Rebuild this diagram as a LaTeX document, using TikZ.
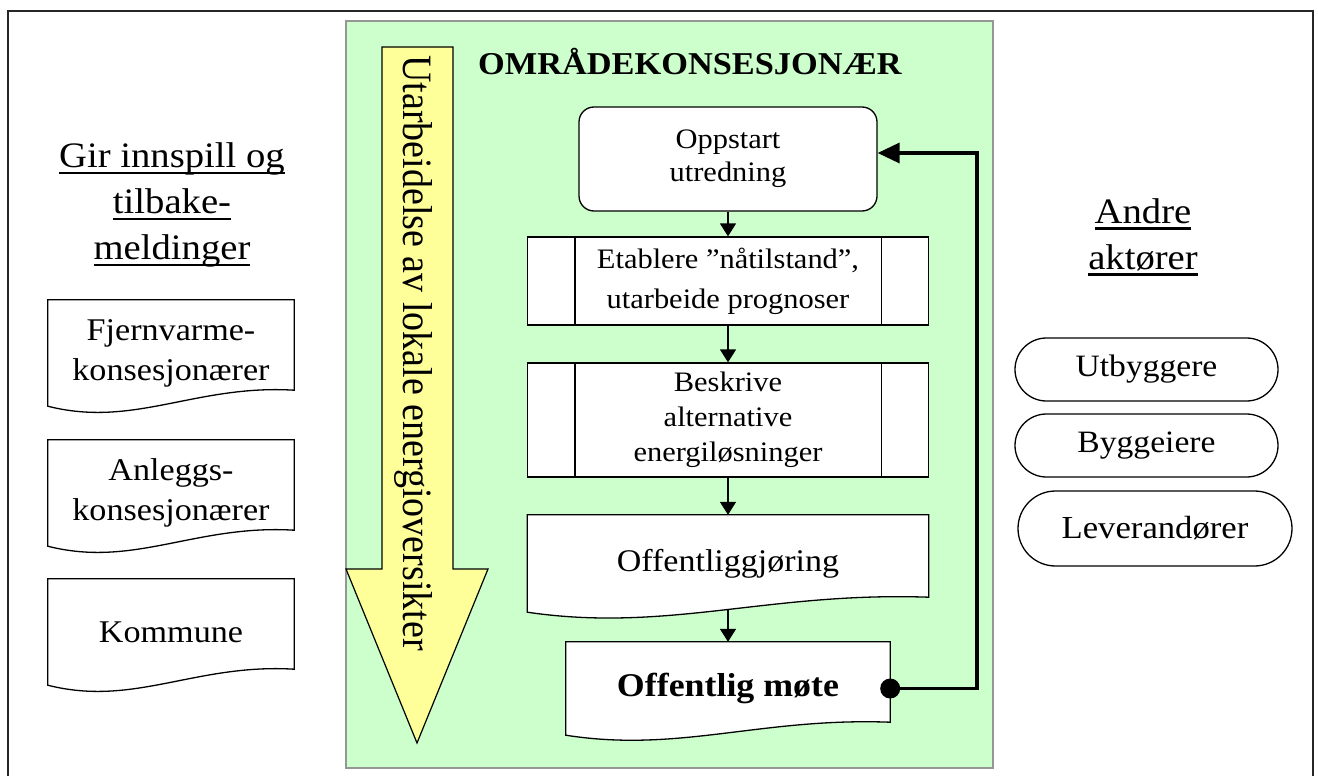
\documentclass[tikz,border=0pt]{standalone}
\usepackage{fontspec}
\setmainfont{Liberation Serif}[FakeStretch=1.08]
\newfontfamily\plainserif{Liberation Serif}
\usepackage{xcolor}
\usetikzlibrary{calc}
\usetikzlibrary{arrows.meta}
\usetikzlibrary{shapes.misc}
\usetikzlibrary{backgrounds}
\newsavebox{\ulbox}
\newcommand{\uln}[1]{\sbox{\ulbox}{#1}\rlap{\rule[-6.8pt]{\wd\ulbox}{2.6pt}}\usebox{\ulbox}}
\definecolor{areagreen}{RGB}{204,255,204}
\definecolor{areaedge}{RGB}{150,150,150}
\definecolor{arrowyellow}{RGB}{255,255,153}
\tikzset{
  every node/.style = {align=center, inner sep=0pt},
  >={Triangle[length=13pt,width=16pt]}
}
\tikzset{
  procbox/.style = {draw, fill=white, line width=1.3pt, minimum width=401pt},
  startbox/.style = {draw, fill=white, line width=1.3pt, rounded corners=15pt},
  docbox/.style = {minimum width=#1},
  pill/.style = {rounded rectangle, draw, line width=1.3pt},
  flow/.style = {->, line width=1.7pt},
  bigtext/.style = {font=\fontsize{35.8}{46}\selectfont},
  midtext/.style = {font=\fontsize{28.2}{35}\selectfont}
}
% document symbol drawn round a node: name, rise of right end
\newcommand{\docshape}[2]{%
  \draw[line width=1.3pt, fill=white] (#1.north west) -- (#1.north east)
    -- ($(#1.south east)+(0,-#2)$)
    .. controls ($(#1.south west)!0.6!(#1.south east)+(0,{-1.375*#2})$)
    and ($(#1.south west)!0.35!(#1.south east)+(0,{1.375*#2})$) .. (#1.south west)
    -- cycle;}

\begin{document}
\begin{tikzpicture}[x=1pt, y=-1pt]
\useasboundingbox (0,0) rectangle (1318,776);
\def\bw{401}

% Frame, green area and the yellow arrow
\begin{scope}[on background layer]
\draw[line width=2pt, black!85] (8,11) rectangle (1313,790);
\draw[fill=areagreen, draw=areaedge, line width=2pt] (346,21) rectangle (993,768);
\draw[fill=arrowyellow, line width=1.2pt] (382,47) -- (453,47) -- (453,569)
  -- (488,569) -- (417,743) -- (346,569) -- (382,569) -- cycle;
\end{scope}
\node[rotate=-90] (trend) at (413,353)
  {\scalebox{1}[1.1]{\plainserif\fontsize{38}{42}\selectfont Utarbeidelse av lokale energioversikter}};

% Title
\node[anchor=base, font=\fontsize{31.8}{36}\selectfont\bfseries] (owner) at (690,75) {OMRÅDEKONSESJONÆR};

% Flow of the study
\node[startbox, minimum width=298pt, minimum height=104pt,
  font=\fontsize{28.2}{33}\selectfont] (start) at (728,159) {Oppstart\\utredning};
\node[procbox, minimum height=88pt, font=\fontsize{28.2}{40}\selectfont] (state) at (728,281)
  {Etablere ”nåtilstand”,\\utarbeide prognoser};
\node[procbox, minimum height=114pt, midtext] (alts) at (728,420)
  {Beskrive\\alternative\\energiløsninger};
\node[docbox=\bw pt, minimum height=97pt, font=\fontsize{31.5}{36}\selectfont] (publ) at (728,563.5)
  {Offentliggjøring};
\node[docbox=324pt, minimum height=93pt, font=\fontsize{33.2}{38}\selectfont\bfseries] (meet) at (728,688.5)
  {Offentlig møte};

% Side bars of the process boxes
\foreach \b in {state,alts}{
  \draw[line width=1.3pt] ($(\b.north west)+(48,0)$) -- ($(\b.south west)+(48,0)$);
  \draw[line width=1.3pt] ($(\b.north east)+(-48,0)$) -- ($(\b.south east)+(-48,0)$);
}

% Left: input from
\node[bigtext] (givers) at (172,205) {\uln{Gir innspill og}\\\uln{tilbake-}\\\uln{meldinger}};
\node[docbox=246pt, minimum height=106pt, font=\fontsize{31.6}{40}\selectfont] (fjv) at (171,353)
  {Fjernvarme-\\konsesjonærer};
\node[docbox=246pt, minimum height=106pt, font=\fontsize{31.6}{40}\selectfont] (ans) at (171,493)
  {Anleggs-\\konsesjonærer};
\node[docbox=246pt, minimum height=106pt, font=\fontsize{31.6}{40}\selectfont] (kom) at (171,632)
  {Kommune};

% Right: other actors
\node[bigtext] (others) at (1143,237) {\uln{Andre}\\\uln{aktører}};
\node[pill, minimum width=263pt, minimum height=63pt, font=\fontsize{31.1}{36}\selectfont] (utb) at (1146.5,369.5) {Utbyggere};
\node[pill, minimum width=263pt, minimum height=63pt, font=\fontsize{31.1}{36}\selectfont] (bygg) at (1146.5,445.5) {Byggeiere};
\node[pill, minimum width=274pt, minimum height=75pt, font=\fontsize{32.1}{36}\selectfont] (lev) at (1155,528.5) {Leverandører};

% Document outlines, under the texts
\begin{scope}[on background layer]
\docshape{publ}{15}
\docshape{meet}{13}
\docshape{fjv}{16}
\docshape{ans}{16}
\docshape{kom}{16}
\end{scope}

% Arrows
\draw[flow] (start.south) -- (state.north);
\draw[flow] (state.south) -- (alts.north);
\draw[flow] (alts.south) -- (publ.north);
\draw[flow, shorten <=-3pt] (publ.south) -- (meet.north);

% Feedback loop
\coordinate (loop) at (977,153);
\draw[line width=3.5pt, -{Triangle[length=22pt,width=20pt]}] (meet.east) -| (loop) -- (loop -| start.east);
\fill (meet.east) circle[radius=10pt];
\end{tikzpicture}
\end{document}
